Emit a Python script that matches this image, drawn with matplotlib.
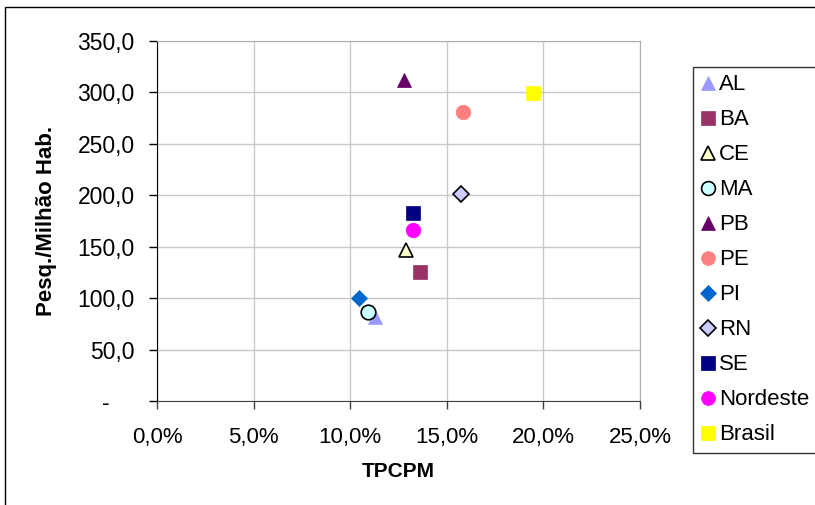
import matplotlib
matplotlib.use("Agg")
import matplotlib.pyplot as plt
from matplotlib.patches import Rectangle
from matplotlib.ticker import FuncFormatter

# data (TPCPM in %, researchers per million inhabitants)
estados = ["AL", "BA", "CE", "MA", "PB", "PE", "PI", "RN", "SE", "Nordeste", "Brasil"]
tpcpm = [11.30, 13.61, 12.91, 10.91, 12.79, 15.82, 10.43, 15.71, 13.25, 13.25, 19.47]
pesq = [81.8, 125.5, 146.9, 86.7, 311.7, 280.9, 100.0, 201.0, 182.5, 165.7, 299.3]

marcadores = ["^", "s", "^", "o", "^", "o", "D", "D", "s", "o", "s"]
cores = ["#9999FF", "#993366", "#FFFFCC", "#CCFFFF", "#660066", "#FF8080",
         "#0066CC", "#CCCCFF", "#000080", "#FF00FF", "#FFFF00"]
bordas = [None, None, "black", "black", None, None, None, "black", None, None, None]
tamanhos = [10.5, 10.5, 10.5, 10.5, 10.5, 10.5, 8.5, 8.5, 10.5, 10.5, 10.5]

plt.rcParams["font.family"] = ["Liberation Sans", "DejaVu Sans"]

fig = plt.figure(figsize=(8.15, 5.05), dpi=100)
ax = fig.add_axes([157/815, 1-401/505, (640-157)/815, (401-40.5)/505])

for i, nome in enumerate(estados):
	ec = bordas[i] if bordas[i] else cores[i]
	ax.plot(tpcpm[i], pesq[i], linestyle="", marker=marcadores[i], markersize=tamanhos[i],
		markerfacecolor=cores[i], markeredgecolor=ec, markeredgewidth=1.2 if bordas[i] else 0.5,
		label=nome, zorder=3)

ax.set_xlim(0, 25)
ax.set_ylim(0, 350)
ax.set_xticks([0, 5, 10, 15, 20, 25])
ax.set_yticks([0, 50, 100, 150, 200, 250, 300, 350])
ax.xaxis.set_major_formatter(FuncFormatter(lambda v, p: ("%.1f%%" % v).replace(".", ",")))
ax.yaxis.set_major_formatter(FuncFormatter(lambda v, p: "-    " if v == 0 else ("%.1f" % v).replace(".", ",")))
ax.grid(True, color="#c8c8c8", linewidth=1)
ax.set_axisbelow(True)
for s in ["top", "right"]:
	ax.spines[s].set_color("#b0b0b0")
ax.spines["left"].set_color("black")
ax.spines["bottom"].set_color("#404040")
ax.tick_params(axis="y", direction="out", length=6, width=1, labelsize=16.5, pad=10, color="black")
ax.tick_params(axis="x", direction="out", length=6, width=1, labelsize=16, pad=13, color="#404040")

ax.set_xlabel("TPCPM", fontsize=15, fontweight="bold", labelpad=10)
ax.set_ylabel("Pesq./Milhão Hab.", fontsize=16, fontweight="bold", labelpad=15)

leg = fig.legend(loc="upper left", bbox_to_anchor=(692.7/815, 1-67.3/505), fontsize=16,
	frameon=True, fancybox=False, edgecolor="black", handlelength=0.7, handletextpad=0.15,
	labelspacing=0.63, borderpad=0.32, borderaxespad=0, markerscale=0.95)
leg.get_frame().set_linewidth(1)

# outer chart frame (cut off at right and bottom)
fig.patches.append(Rectangle((5/815, -0.1), 2, 1-7/505+0.1, transform=fig.transFigure,
	fill=False, edgecolor="black", linewidth=1))

fig.savefig("out.png", dpi=100)
